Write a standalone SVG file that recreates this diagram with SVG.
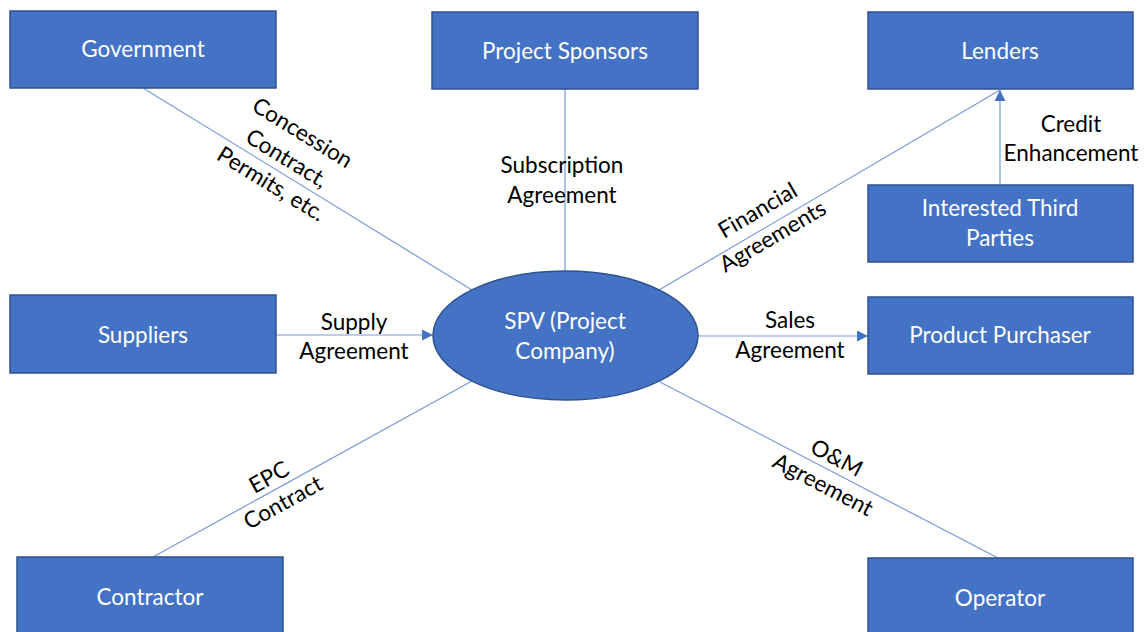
<svg xmlns="http://www.w3.org/2000/svg" width="1148" height="632" viewBox="0 0 1148 632">
  <style>
    .box { fill: #4472C4; stroke: #2F528F; stroke-width: 1.5; }
    .lbl { font-family: Lato, "Open Sans", sans-serif; font-size: 22.5px; fill: #FFFFFF; text-anchor: middle; }
    .edge { stroke: #7A9AD6; stroke-width: 1.2; fill: none; }
    .etxt { font-family: Lato, "Open Sans", sans-serif; font-size: 22.5px; fill: #000000; text-anchor: middle; }
  </style>
  <defs>
    <marker id="arrow" viewBox="0 0 10 10" refX="10" refY="5" markerWidth="12" markerHeight="11" markerUnits="userSpaceOnUse" orient="auto">
      <path d="M0,0 L10,5 L0,10 Z" fill="#4472C4"/>
    </marker>
  </defs>
  <rect width="1148" height="632" fill="#FFFFFF"/>

  <!-- connectors -->
  <g id="connectors">
    <line class="edge" x1="143" y1="88" x2="472" y2="290"/>
    <line class="edge" x1="565" y1="89" x2="565" y2="271"/>
    <line class="edge" x1="659" y1="290" x2="1000" y2="90"/>
    <line class="edge" x1="1000" y1="185" x2="1000" y2="90" marker-end="url(#arrow)"/>
    <line class="edge" x1="276" y1="335" x2="433" y2="335" marker-end="url(#arrow)"/>
    <line class="edge" x1="698" y1="336" x2="868" y2="336" marker-end="url(#arrow)"/>
    <line class="edge" x1="153" y1="557" x2="472" y2="381"/>
    <line class="edge" x1="660" y1="382" x2="998" y2="558"/>

    <!-- connector labels -->
    <g transform="translate(287,158) rotate(31.5)">
      <text class="etxt" x="0" y="-22">Concession</text>
      <text class="etxt" x="0" y="8">Contract,</text>
      <text class="etxt" x="0" y="38">Permits, etc.</text>
    </g>
    <text class="etxt" x="562" y="173">Subscription</text>
    <text class="etxt" x="562" y="203">Agreement</text>
    <g transform="translate(765,223) rotate(-30.4)">
      <text class="etxt" x="0" y="-7">Financial</text>
      <text class="etxt" x="0" y="23">Agreements</text>
    </g>
    <text class="etxt" x="1071" y="132">Credit</text>
    <text class="etxt" x="1071" y="161">Enhancement</text>
    <text class="etxt" x="354" y="330">Supply</text>
    <text class="etxt" x="354" y="359">Agreement</text>
    <text class="etxt" x="790" y="328">Sales</text>
    <text class="etxt" x="790" y="358">Agreement</text>
    <g transform="translate(276,490) rotate(-28.9)">
      <text class="etxt" x="0" y="-7">EPC</text>
      <text class="etxt" x="0" y="22">Contract</text>
    </g>
    <g transform="translate(830,471) rotate(27.5)">
      <text class="etxt" x="0" y="-7">O&amp;M</text>
      <text class="etxt" x="0" y="23">Agreement</text>
    </g>
  </g>

  <g id="government">
    <rect class="box" x="10" y="11" width="266" height="77"/>
    <text class="lbl" x="143" y="57">Government</text>
  </g>
  <g id="project-sponsors">
    <rect class="box" x="432" y="12" width="266" height="77"/>
    <text class="lbl" x="565" y="59">Project Sponsors</text>
  </g>
  <g id="lenders">
    <rect class="box" x="868" y="12" width="265" height="77"/>
    <text class="lbl" x="1000" y="59">Lenders</text>
  </g>
  <g id="interested-third-parties">
    <rect class="box" x="868" y="185" width="265" height="77"/>
    <text class="lbl" x="1000" y="216">Interested Third</text>
    <text class="lbl" x="1000" y="246">Parties</text>
  </g>
  <g id="suppliers">
    <rect class="box" x="10" y="295" width="266" height="78"/>
    <text class="lbl" x="143" y="343">Suppliers</text>
  </g>
  <g id="spv">
    <ellipse class="box" cx="565.5" cy="335.5" rx="132.5" ry="64.5"/>
    <text class="lbl" x="565" y="329">SPV (Project</text>
    <text class="lbl" x="565" y="359">Company)</text>
  </g>
  <g id="product-purchaser">
    <rect class="box" x="868" y="297" width="265" height="77"/>
    <text class="lbl" x="1000" y="343">Product Purchaser</text>
  </g>
  <g id="contractor">
    <rect class="box" x="17" y="557" width="266" height="90"/>
    <text class="lbl" x="150" y="605">Contractor</text>
  </g>
  <g id="operator">
    <rect class="box" x="868" y="558" width="265" height="90"/>
    <text class="lbl" x="1000" y="606">Operator</text>
  </g>
</svg>
